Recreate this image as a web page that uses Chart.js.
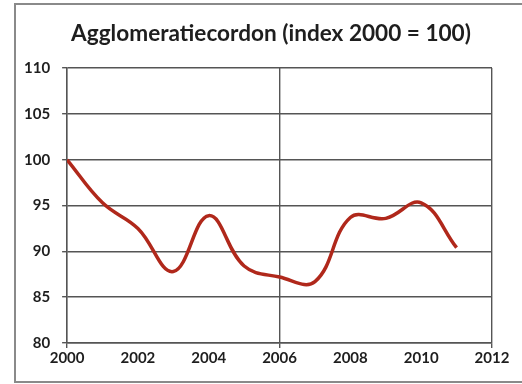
<!DOCTYPE html>
<html>
<head>
<meta charset="utf-8">
<script src="https://cdn.jsdelivr.net/npm/chart.js@4"></script>
<style>
  html, body { margin: 0; padding: 0; background: #fff; }
  #wrap { position: relative; width: 522px; height: 384px; }
  #frame {
    position: absolute; left: 14px; top: 3px; width: 520px; height: 380px;
    border: 2px solid #8a8a8a; box-sizing: border-box;
  }
  canvas { position: absolute; left: 0; top: 0; }
</style>
</head>
<body>
<div id="wrap">
  <div id="frame"></div>
  <canvas id="chart" width="522" height="384"></canvas>
</div>
<script>
const years = [2000, 2001, 2002, 2003, 2004, 2005, 2006, 2007, 2008, 2009, 2010, 2011];
const index = [100, 95.3, 92.5, 87.8, 93.9, 88.4, 87.2, 86.7, 93.7, 93.6, 95.3, 90.4];
const xMin = 2000, xMax = 2012, xStep = 2;
const yMin = 80, yMax = 110, yStep = 5;
const gridYears = [2000, 2006, 2012];

const ctx = document.getElementById("chart").getContext("2d");
const tickFont = { family: "Lato", size: 15, weight: "bold" };

// the title in the original sits a bit right of the canvas centre
const shiftTitle = {
  id: "shiftTitle",
  afterLayout(chart) {
    const t = chart.titleBlock;
    if (t) { t.left += 19; t.right += 19; }
  }
};

new Chart(ctx, {
  type: "line",
  data: {
    datasets: [{
      data: years.map((y, i) => ({ x: y, y: index[i] })),
      borderColor: "#b0281b",
      borderWidth: 3.5,
      pointRadius: 0,
      tension: 0.4,
      fill: false
    }]
  },
  options: {
    responsive: false,
    animation: false,
    layout: { padding: { left: 12, right: 30, top: 4, bottom: 16 } },
    plugins: {
      legend: { display: false },
      tooltip: { enabled: false },
      title: {
        display: true,
        text: "Agglomeratiecordon (index 2000 = 100)",
        color: "#1e1e1e",
        font: { family: "Lato", size: 22.6, weight: "bold" },
        padding: { top: 16, bottom: 21 }
      }
    },
    scales: {
      x: {
        type: "linear",
        min: xMin,
        max: xMax,
        ticks: {
          stepSize: xStep,
          color: "#1e1e1e",
          font: tickFont,
          callback: (v) => String(v),
          maxRotation: 0,
          padding: 1
        },
        grid: {
          color: (c) => gridYears.includes(c.tick && c.tick.value) ? "#555" : "rgba(0,0,0,0)",
          lineWidth: 1.4,
          tickLength: 5
        },
        border: { color: "#555", width: 1.4 }
      },
      y: {
        min: yMin,
        max: yMax,
        ticks: {
          stepSize: yStep,
          color: "#1e1e1e",
          font: tickFont,
          padding: 12
        },
        grid: { color: "#555", lineWidth: 1.4, tickLength: 5 },
        border: { color: "#555", width: 1.4 }
      }
    }
  },
  plugins: [shiftTitle]
});
</script>
</body>
</html>
